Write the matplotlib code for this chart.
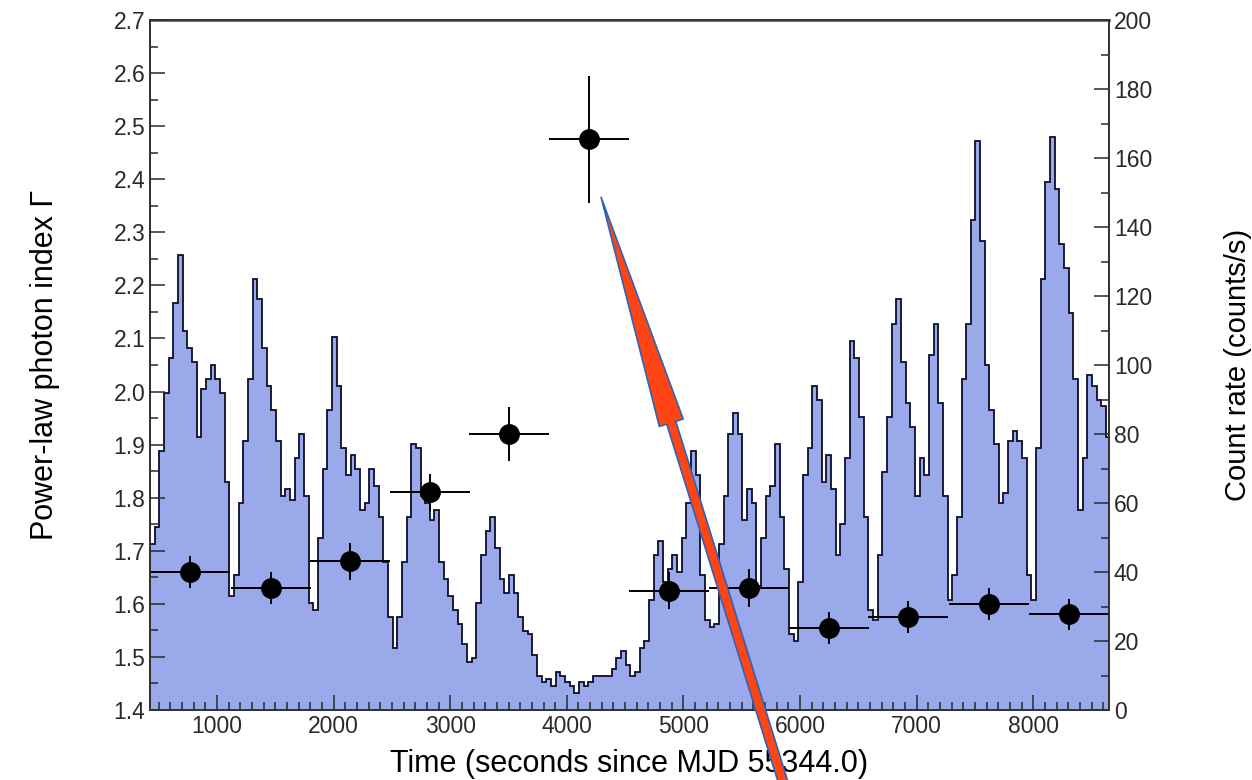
import numpy as np
import matplotlib.pyplot as plt
from matplotlib.ticker import MultipleLocator, FormatStrFormatter

plt.rcParams['font.family'] = ['Liberation Sans', 'DejaVu Sans']

# count-rate light curve (counts/s), 40 s bins starting at t = 425 s
bin_start = 425
bin_width = 40
count_rate = [
    48, 53, 75, 92, 102, 118, 132, 110, 105, 101, 79, 93, 96, 100, 96, 92,
    66, 33, 39, 60, 78, 96, 125, 119, 105, 94, 87, 78, 62, 64, 61, 73,
    80, 62, 31, 29, 50, 70, 87, 108, 94, 76, 68, 74, 70, 58, 60, 70,
    65, 56, 43, 27, 18, 27, 43, 56, 77, 76, 62, 60, 55, 58, 43, 38,
    33, 29, 25, 19, 14, 15, 31, 45, 52, 56, 47, 38, 34, 39, 34, 27,
    23, 22, 16, 10, 8, 9, 7, 11, 10, 8, 7, 5, 8, 7, 8, 10,
    10, 10, 10, 12, 15, 17, 13, 10, 11, 18, 20, 32, 45, 49, 37, 41,
    45, 40, 50, 60, 75, 68, 39, 26, 24, 25, 48, 62, 80, 86, 80, 55,
    64, 60, 36, 50, 62, 65, 77, 56, 41, 22, 20, 37, 68, 76, 94, 90,
    66, 74, 64, 45, 54, 73, 107, 102, 85, 56, 29, 26, 45, 69, 85, 112,
    119, 101, 89, 82, 62, 73, 68, 103, 112, 89, 62, 32, 39, 56, 96, 112,
    142, 165, 136, 100, 87, 77, 60, 63, 78, 81, 78, 73, 39, 32, 76, 125,
    153, 166, 151, 135, 128, 115, 96, 58, 73, 97, 94, 90, 88, 79,
]

# power-law photon index from spectral fits of each time segment
seg_time = [768, 1463, 2141, 2827, 3505, 4191, 4877, 5563, 6250, 6927, 7622, 8309]
seg_half = [343, 343, 343, 343, 343, 343, 343, 343, 343, 343, 343, 343]
gamma = [1.66, 1.63, 1.68, 1.81, 1.92, 2.475, 1.625, 1.63, 1.555, 1.575, 1.60, 1.58]
gamma_err = [0.03, 0.03, 0.035, 0.035, 0.05, 0.12, 0.035, 0.035, 0.03, 0.03, 0.03, 0.03]

edges = bin_start + bin_width * np.arange(len(count_rate) + 1)

fig = plt.figure(figsize=(12.52, 7.8), dpi=100)
ax = fig.add_axes([150 / 1252, 1 - 710 / 780, 959 / 1252, 690 / 780])
ax2 = ax.twinx()

# light curve on the right axis
ax2.stairs(count_rate, edges, fill=True, color='#9aa9e9', lw=0)
ax2.stairs(count_rate, edges, color='#0d0d2b', lw=1.3)
ax2.set_ylim(0, 200)
ax2.yaxis.set_major_locator(MultipleLocator(20))
ax2.yaxis.set_minor_locator(MultipleLocator(10))
ax2.set_ylabel('Count rate (counts/s)', fontsize=21)
ax2.yaxis.set_label_coords(1.12, 0.5)

# photon index points on the left axis, drawn above the histogram
ax.set_zorder(ax2.get_zorder() + 1)
ax.patch.set_visible(False)
ax.errorbar(seg_time, gamma, xerr=seg_half, yerr=gamma_err, fmt='o',
            color='black', ms=14, elinewidth=1.4, capsize=0)
ax.set_xlim(425, 8650)
ax.set_ylim(1.4, 2.7)
ax.xaxis.set_major_locator(MultipleLocator(1000))
ax.xaxis.set_minor_locator(MultipleLocator(100))
ax.yaxis.set_major_locator(MultipleLocator(0.1))
ax.yaxis.set_minor_locator(MultipleLocator(0.05))
ax.yaxis.set_major_formatter(FormatStrFormatter('%.1f'))
ax.set_xlabel('Time (seconds since MJD 55344.0)', fontsize=22)
ax.set_ylabel('Power-law photon index \u0393', fontsize=22)
ax.xaxis.set_label_coords(0.5, -0.057)
ax.yaxis.set_label_coords(-0.094, 0.5)

for a in (ax, ax2):
    a.tick_params(which='both', direction='in', labelsize=16.5, colors='#2a2a2a', width=1.1)
    a.tick_params(which='major', length=11)
    a.tick_params(which='minor', length=5.5)
    for s in a.spines.values():
        s.set_color('#333333')
        s.set_linewidth(1.3)
ax.tick_params(top=False, right=False)
ax2.tick_params(left=False)
ax2.spines['top'].set_color('#666666')
ax2.spines['top'].set_linewidth(2)

# red pointer arrow overlaid on the figure
ax.annotate('', xy=(4294, 2.366), xycoords='data',
            xytext=(0.630, -0.026), textcoords='figure fraction',
            arrowprops=dict(arrowstyle='simple,head_length=170,head_width=18,tail_width=6.8',
                            mutation_scale=1, fc='#ff4513', ec='#2f62b8', lw=1.2,
                            shrinkA=0, shrinkB=0),
            annotation_clip=False)

fig.savefig('out.png', dpi=100)
